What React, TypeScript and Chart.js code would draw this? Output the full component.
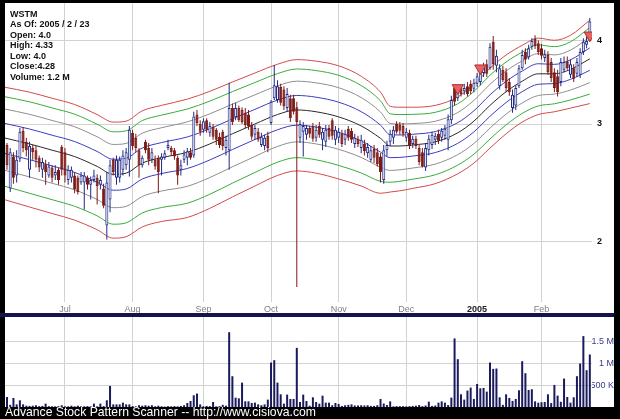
import { useEffect, useRef } from 'react';
import { Chart, registerables } from 'chart.js';

Chart.register(...registerables);

// ---------- data ----------
const monthTickIdx = [18, 39, 61, 82, 103, 124, 146, 166];
const monthTickLabels = ['Jul', 'Aug', 'Sep', 'Oct', 'Nov', 'Dec', '2005', 'Feb'];
const priceTicks = [2, 3, 4];
const volumeTicksK = [500, 1000, 1500];
const volumeTickLabels = ['500 K', '1 M', '1.5 M'];

const opens = [
  2.79, 2.40, 2.68, 2.51, 2.66, 2.93, 2.82, 2.56, 2.76, 2.74,
  2.67, 2.56, 2.61, 2.51, 2.58, 2.51, 2.56, 2.77, 2.72, 2.47,
  2.49, 2.51, 2.49, 2.45, 2.45, 2.49, 2.43, 2.47, 2.49, 2.43,
  2.40, 2.11, 2.31, 2.65, 2.49, 2.49, 2.56, 2.60, 2.65, 2.91,
  2.86, 2.74, 2.60, 2.82, 2.76, 2.65, 2.65, 2.67, 2.65, 2.67,
  2.76, 2.76, 2.74, 2.67, 2.56, 2.65, 2.67, 2.72, 2.69, 3.10,
  3.00, 2.94, 3.04, 2.91, 2.97, 2.94, 2.87, 2.92, 2.76, 2.74,
  3.17, 3.07, 3.17, 3.15, 3.12, 3.10, 2.99, 2.89, 2.92, 2.79,
  2.78, 2.88, 3.01, 3.28, 3.26, 3.41, 3.38, 3.17, 3.28, 3.28,
  3.18, 2.86, 2.92, 2.89, 2.96, 2.98, 2.86, 2.98, 2.84, 2.82,
  2.96, 3.04, 2.84, 2.86, 2.90, 2.84, 2.95, 2.93, 2.80, 2.85,
  2.76, 2.80, 2.71, 2.65, 2.75, 2.72, 2.68, 2.47, 2.74, 2.82,
  2.86, 3.00, 2.99, 2.98, 2.86, 2.91, 2.80, 2.85, 2.76, 2.72,
  2.58, 2.74, 2.79, 2.84, 2.90, 2.86, 2.88, 2.84, 3.04, 3.40,
  3.28, 3.40, 3.36, 3.42, 3.45, 3.39, 3.45, 3.47, 3.58, 3.69,
  3.64, 3.99, 3.67, 3.42, 3.62, 3.59, 3.47, 3.17, 3.20, 3.42,
  3.64, 3.85, 3.78, 3.92, 4.03, 3.97, 3.90, 3.77, 3.81, 3.72,
  3.59, 3.54, 3.47, 3.62, 3.73, 3.56, 3.64, 3.57, 3.56, 3.85,
  3.95, 4.00,
];
const highs = [
  2.81, 2.76, 2.72, 2.74, 2.96, 2.97, 2.86, 2.82, 2.79, 2.78,
  2.69, 2.67, 2.65, 2.63, 2.60, 2.60, 2.58, 2.79, 2.76, 2.60,
  2.59, 2.54, 2.51, 2.54, 2.54, 2.51, 2.50, 2.56, 2.52, 2.51,
  2.44, 2.54, 2.65, 2.67, 2.69, 2.68, 2.74, 2.76, 2.98, 2.94,
  2.90, 2.76, 2.69, 2.84, 2.81, 2.76, 2.69, 2.69, 2.71, 2.74,
  2.84, 2.78, 2.76, 2.69, 2.65, 2.74, 2.76, 2.76, 3.13, 3.15,
  3.04, 3.06, 3.06, 3.02, 3.00, 2.96, 2.91, 2.94, 2.88, 3.46,
  3.22, 3.23, 3.20, 3.18, 3.17, 3.15, 3.02, 2.99, 2.96, 2.91,
  2.89, 2.92, 3.26, 3.68, 3.49, 3.45, 3.42, 3.40, 3.32, 3.32,
  3.24, 3.04, 3.02, 2.99, 2.98, 3.01, 2.99, 3.02, 2.96, 2.99,
  2.99, 3.06, 2.98, 2.96, 2.94, 2.94, 2.98, 2.96, 2.90, 2.88,
  2.89, 2.84, 2.81, 2.78, 2.79, 2.76, 2.71, 2.79, 2.83, 2.94,
  2.98, 3.03, 3.02, 3.01, 2.96, 2.94, 2.88, 2.88, 2.79, 2.76,
  2.81, 2.89, 2.92, 2.91, 2.94, 2.96, 2.99, 3.10, 3.31, 3.43,
  3.43, 3.43, 3.45, 3.47, 3.49, 3.51, 3.58, 3.62, 3.71, 3.75,
  3.97, 4.07, 3.88, 3.69, 3.67, 3.64, 3.52, 3.38, 3.43, 3.68,
  3.88, 3.90, 3.95, 4.04, 4.08, 4.01, 3.96, 3.88, 3.86, 3.77,
  3.64, 3.62, 3.77, 3.79, 3.79, 3.75, 3.69, 3.77, 3.90, 4.04,
  4.07, 4.33,
];
const lows = [
  2.56, 2.37, 2.44, 2.45, 2.63, 2.72, 2.68, 2.49, 2.65, 2.58,
  2.54, 2.49, 2.43, 2.49, 2.45, 2.47, 2.43, 2.51, 2.45, 2.43,
  2.45, 2.36, 2.35, 2.43, 2.23, 2.39, 2.31, 2.45, 2.27, 2.39,
  2.24, 2.01, 2.21, 2.51, 2.43, 2.45, 2.51, 2.56, 2.50, 2.74,
  2.72, 2.49, 2.58, 2.71, 2.60, 2.62, 2.56, 2.36, 2.51, 2.65,
  2.74, 2.69, 2.65, 2.43, 2.51, 2.62, 2.60, 2.65, 2.67, 2.98,
  2.88, 2.91, 2.91, 2.87, 2.84, 2.79, 2.76, 2.74, 2.69, 2.56,
  2.99, 3.04, 3.02, 3.00, 2.96, 2.94, 2.84, 2.84, 2.82, 2.77,
  2.74, 2.72, 2.99, 3.26, 3.23, 3.20, 3.15, 3.13, 3.02, 3.10,
  1.705, 2.81, 2.68, 2.84, 2.86, 2.82, 2.82, 2.86, 2.74, 2.77,
  2.84, 2.84, 2.79, 2.81, 2.77, 2.79, 2.83, 2.81, 2.76, 2.77,
  2.71, 2.69, 2.67, 2.63, 2.62, 2.59, 2.45, 2.44, 2.68, 2.78,
  2.80, 2.90, 2.89, 2.87, 2.82, 2.75, 2.76, 2.75, 2.60, 2.58,
  2.55, 2.69, 2.75, 2.79, 2.80, 2.82, 2.84, 2.74, 3.00, 3.20,
  3.25, 3.30, 3.32, 3.30, 3.33, 3.35, 3.41, 3.43, 3.53, 3.53,
  3.62, 3.62, 3.59, 3.38, 3.47, 3.35, 3.31, 3.12, 3.15, 3.40,
  3.62, 3.69, 3.75, 3.88, 3.89, 3.81, 3.75, 3.72, 3.56, 3.47,
  3.35, 3.30, 3.42, 3.59, 3.62, 3.52, 3.47, 3.53, 3.52, 3.81,
  3.90, 4.00,
];
const closes = [
  2.60, 2.72, 2.49, 2.65, 2.92, 2.76, 2.74, 2.78, 2.72, 2.65,
  2.58, 2.63, 2.54, 2.59, 2.49, 2.54, 2.47, 2.56, 2.51, 2.56,
  2.56, 2.39, 2.37, 2.51, 2.51, 2.43, 2.47, 2.51, 2.42, 2.47,
  2.26, 2.45, 2.60, 2.54, 2.65, 2.65, 2.69, 2.72, 2.94, 2.78,
  2.76, 2.60, 2.67, 2.74, 2.65, 2.72, 2.59, 2.54, 2.68, 2.71,
  2.79, 2.72, 2.68, 2.51, 2.60, 2.70, 2.73, 2.67, 3.08, 3.01,
  2.92, 3.03, 2.94, 2.98, 2.87, 2.84, 2.79, 2.78, 2.84, 3.17,
  3.02, 3.17, 3.04, 3.02, 2.99, 2.98, 2.87, 2.96, 2.84, 2.87,
  2.86, 2.76, 3.24, 3.43, 3.42, 3.23, 3.19, 3.33, 3.06, 3.13,
  3.02, 3.00, 2.98, 2.96, 2.90, 2.85, 2.94, 2.89, 2.92, 2.94,
  2.87, 2.88, 2.94, 2.92, 2.80, 2.90, 2.86, 2.84, 2.86, 2.80,
  2.84, 2.73, 2.77, 2.74, 2.67, 2.61, 2.54, 2.74, 2.79, 2.90,
  2.94, 2.92, 2.93, 2.90, 2.92, 2.78, 2.85, 2.78, 2.63, 2.59,
  2.76, 2.85, 2.89, 2.88, 2.83, 2.93, 2.95, 3.05, 3.26, 3.24,
  3.38, 3.33, 3.40, 3.33, 3.36, 3.46, 3.54, 3.59, 3.67, 3.57,
  3.92, 3.69, 3.80, 3.64, 3.49, 3.40, 3.35, 3.32, 3.40, 3.64,
  3.81, 3.75, 3.90, 4.00, 3.93, 3.85, 3.80, 3.82, 3.59, 3.52,
  3.40, 3.35, 3.72, 3.72, 3.64, 3.69, 3.51, 3.72, 3.85, 3.99,
  4.00, 4.28,
];
// volume in thousands of shares
const volumesK = [
  230, 50, 208, 60, 154, 62, 30, 25, 30, 40,
  20, 25, 77, 20, 15, 15, 20, 40, 15, 15,
  30, 15, 30, 15, 15, 20, 15, 77, 15, 77,
  20, 154, 485, 60, 60, 60, 100, 60, 60, 20,
  15, 40, 30, 40, 30, 40, 15, 30, 15, 10,
  20, 15, 20, 15, 25, 40, 92, 138, 270, 308,
  60, 15, 25, 20, 115, 15, 20, 50, 30, 1720,
  708, 215, 200, 560, 130, 130, 92, 100, 60, 40,
  60, 170, 1023, 1077, 560, 292, 77, 285, 185, 185,
  1360, 115, 285, 138, 30, 223, 115, 77, 260, 100,
  100, 40, 92, 70, 25, 40, 50, 60, 35, 35,
  40, 35, 40, 25, 25, 40, 185, 80, 45, 130,
  15, 20, 20, 20, 15, 20, 25, 30, 45, 20,
  35, 123, 25, 35, 100, 130, 100, 45, 215, 1577,
  1100, 292, 170, 377, 446, 185, 530, 430, 438, 354,
  1023, 877, 885, 223, 50, 292, 208, 140, 185, 385,
  1054, 777, 392, 408, 130, 100, 110, 115, 292, 90,
  508, 262, 120, 654, 230, 100, 223, 708, 1000, 1631,
  846, 1208,
];

// band centre line and band deviation (price units), sampled at bar indices
const bandIdx = [-1, 7, 14, 21, 28, 33, 37, 42, 48, 56, 63, 70, 77, 84, 90, 96, 103, 110, 116, 119, 122, 126, 133, 140, 145, 150, 155, 160, 165, 170, 175, 181];
const bandMid = [2.86, 2.80, 2.74, 2.68, 2.59, 2.52, 2.53, 2.62, 2.67, 2.72, 2.80, 2.90, 3.00, 3.10, 3.15, 3.13, 3.075, 2.98, 2.855, 2.78, 2.78, 2.79, 2.82, 2.91, 3.03, 3.20, 3.355, 3.48, 3.57, 3.57, 3.625, 3.76];
const bandDev = [0.55, 0.55, 0.54, 0.53, 0.51, 0.50, 0.50, 0.52, 0.53, 0.55, 0.56, 0.57, 0.58, 0.59, 0.60, 0.60, 0.595, 0.56, 0.495, 0.41, 0.40, 0.39, 0.38, 0.385, 0.41, 0.44, 0.455, 0.46, 0.47, 0.44, 0.455, 0.54];
const bandMultipliers = [1, 0.8, 0.55, 0.27];

// pattern signal markers
const signalIdx = [140, 147, 181];
const signalPrice = [3.40, 3.64, 4.08];

const infoLines = ['WSTM', 'As Of: 2005 / 2 / 23', 'Open: 4.0', 'High: 4.33', 'Low: 4.0', 'Close:4.28', 'Volume: 1.2 M'];
const footerText = 'Advance Stock Pattern Scanner -- http://www.cisiova.com';

// ---------- styling ----------
const FONT = '"Liberation Sans", Arial, sans-serif';
const X_MIN = -0.62;
const X_MAX = 181.68;
const GRID = '#d2d2d2';
const UP = '#1e2a86';
const DOWN = '#7c1a16';
const bandColors = ['#d24a4a', '#3aab3a', '#8e8e8e', '#3c3cc0'];

const fitVertical = (w: number) => (s: any) => {
  s.width = w;
  s.paddingTop = 0;
  s.paddingBottom = 0;
};

export default function App() {
  const priceRef = useRef<HTMLCanvasElement>(null);
  const volRef = useRef<HTMLCanvasElement>(null);

  useEffect(() => {
    const idx = opens.map((_, i) => i);
    const isUp = idx.map((i) => closes[i] >= opens[i]);

    const bandDatasets: any[] = [];
    const lineDs = (data: any[], color: string) => ({
      type: 'line',
      data,
      borderColor: color,
      borderWidth: 1,
      pointRadius: 0,
      fill: false,
      cubicInterpolationMode: 'monotone',
      order: 5,
    });
    bandMultipliers.forEach((m, k) => {
      bandDatasets.push(lineDs(bandIdx.map((x, j) => ({ x, y: bandMid[j] + m * bandDev[j] })), bandColors[k]));
    });
    bandDatasets.push(lineDs(bandIdx.map((x, j) => ({ x, y: bandMid[j] })), '#2a2a2a'));
    [...bandMultipliers].reverse().forEach((m, k) => {
      bandDatasets.push(lineDs(bandIdx.map((x, j) => ({ x, y: bandMid[j] - m * bandDev[j] })), bandColors[3 - k]));
    });

    const monthTicks = (s: any) => {
      s.ticks = monthTickIdx.map((v) => ({ value: v }));
    };

    const price = new Chart(priceRef.current!, {
      type: 'bar',
      data: {
        datasets: [
          ...bandDatasets,
          {
            type: 'bar',
            data: idx.map((i) => ({ x: i, y: [lows[i], highs[i]] })),
            backgroundColor: idx.map((i) => (isUp[i] ? UP : DOWN)),
            borderWidth: 0,
            barThickness: 1,
            grouped: false,
            inflateAmount: 0,
            order: 3,
          },
          {
            type: 'bar',
            data: idx.map((i) => ({ x: i, y: [opens[i], closes[i]] })),
            backgroundColor: idx.map((i) => (isUp[i] ? '#f4f4fb' : DOWN)),
            borderColor: idx.map((i) => (isUp[i] ? UP : DOWN)),
            borderWidth: 1,
            borderSkipped: false,
            barThickness: 3,
            grouped: false,
            inflateAmount: 0,
            order: 2,
          },
          {
            type: 'line',
            data: signalIdx.map((x, j) => ({ x, y: signalPrice[j] })),
            showLine: false,
            pointStyle: 'triangle',
            rotation: 180,
            pointRadius: 6.5,
            backgroundColor: '#e86262',
            borderColor: '#b03030',
            borderWidth: 1,
            order: 0,
          },
        ] as any,
      },
      options: {
        responsive: false,
        animation: false,
        devicePixelRatio: 1,
        events: [],
        layout: { padding: 0, autoPadding: false },
        plugins: { legend: { display: false }, tooltip: { enabled: false } },
        scales: {
          x: {
            type: 'linear',
            min: X_MIN,
            max: X_MAX,
            offset: false,
            afterBuildTicks: monthTicks,
            afterFit: (s: any) => {
              s.height = 11;
              s.paddingLeft = 0;
              s.paddingRight = 0;
            },
            grid: { color: GRID, drawTicks: false, offset: false },
            border: { display: false },
            ticks: {
              autoSkip: false,
              maxRotation: 0,
              padding: 2,
              callback: (_v: any, i: number) => monthTickLabels[i],
              font: (ctx: any) => ({ family: FONT, size: 9, weight: ctx.index === 6 ? 'bold' : 'normal' }),
              color: (ctx: any) => (ctx.index === 6 ? '#222' : '#808080'),
            },
          },
          y: {
            type: 'logarithmic',
            position: 'right',
            min: 1.619,
            max: 4.563,
            bounds: 'data',
            afterBuildTicks: (s: any) => {
              s.ticks = priceTicks.map((v) => ({ value: v }));
            },
            afterFit: fitVertical(22),
            grid: { color: GRID, drawTicks: false },
            border: { display: false },
            ticks: {
              padding: 5,
              callback: (v: any) => String(v),
              font: { family: FONT, size: 9, weight: 'bold' },
              color: '#111',
            },
          },
        },
      } as any,
    });

    const vol = new Chart(volRef.current!, {
      type: 'bar',
      data: {
        datasets: [
          {
            data: idx.map((i) => ({ x: i, y: volumesK[i] })),
            backgroundColor: '#1a1a5e',
            borderWidth: 0,
            barThickness: 2,
            inflateAmount: 0,
          },
        ] as any,
      },
      options: {
        responsive: false,
        animation: false,
        devicePixelRatio: 1,
        events: [],
        layout: { padding: 0, autoPadding: false },
        plugins: { legend: { display: false }, tooltip: { enabled: false } },
        scales: {
          x: {
            type: 'linear',
            min: X_MIN,
            max: X_MAX,
            offset: false,
            afterBuildTicks: monthTicks,
            afterFit: (s: any) => {
              s.height = 0;
              s.paddingLeft = 0;
              s.paddingRight = 0;
            },
            grid: { color: GRID, drawTicks: false, offset: false },
            border: { display: false },
            ticks: { display: false },
          },
          y: {
            position: 'right',
            min: 0,
            max: 2070,
            afterBuildTicks: (s: any) => {
              s.ticks = volumeTicksK.map((v) => ({ value: v }));
            },
            afterFit: fitVertical(22),
            grid: { color: GRID, drawTicks: false },
            border: { display: false },
            ticks: {
              padding: 0,
              crossAlign: 'far',
              callback: (_v: any, i: number) => volumeTickLabels[i],
              font: { family: FONT, size: 9 },
              color: '#3a3a8c',
            },
          },
        },
      } as any,
    });

    return () => {
      price.destroy();
      vol.destroy();
    };
  }, []);

  return (
    <div
      style={{
        position: 'fixed',
        left: 0,
        top: 0,
        width: 620,
        height: 419,
        background: '#000',
        overflow: 'hidden',
        fontFamily: FONT,
      }}
    >
      <div style={{ position: 'absolute', left: 5, top: 3, width: 609, height: 310, background: '#fff' }}>
        <canvas ref={priceRef} width={609} height={310} style={{ display: 'block' }} />
      </div>
      <div style={{ position: 'absolute', left: 0, top: 313, width: 614, height: 4, background: '#14144c' }} />
      <div style={{ position: 'absolute', left: 5, top: 317, width: 609, height: 90, background: '#fff' }}>
        <canvas ref={volRef} width={609} height={90} style={{ display: 'block' }} />
      </div>
      <div
        style={{
          position: 'absolute',
          left: 10,
          top: 9,
          fontSize: 9,
          fontWeight: 'bold',
          lineHeight: '10.45px',
          color: '#111',
          whiteSpace: 'pre',
          pointerEvents: 'none',
        }}
      >
        {infoLines.map((t) => (
          <div key={t}>{t}</div>
        ))}
      </div>
      <div
        style={{
          position: 'absolute',
          left: 5,
          top: 405,
          fontSize: 12.2,
          lineHeight: '14px',
          color: '#fff',
          whiteSpace: 'pre',
        }}
      >
        {footerText}
      </div>
    </div>
  );
}
